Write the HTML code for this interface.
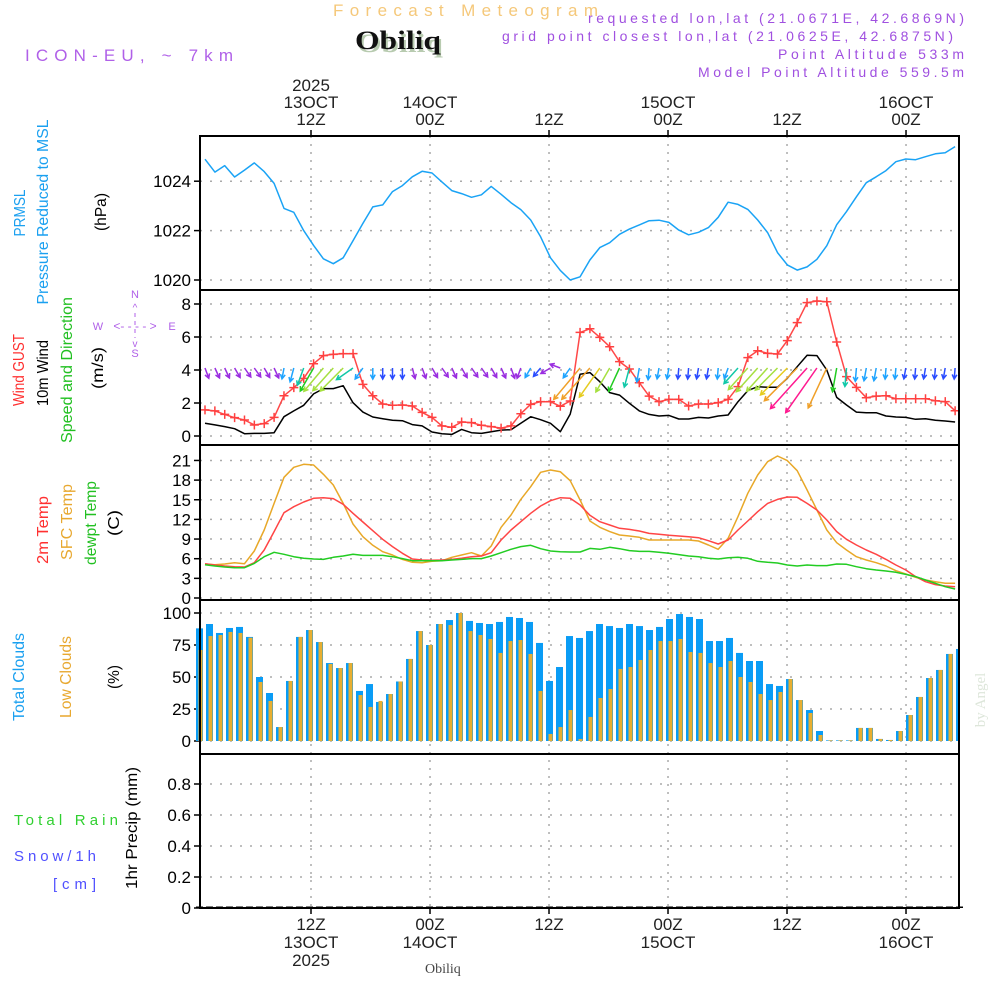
<!DOCTYPE html>
<html><head><meta charset="utf-8"><title>Forecast Meteogram Obiliq</title>
<style>
html,body{margin:0;padding:0;background:#fff;}
svg{display:block;font-family:"Liberation Sans",sans-serif;}
</style></head>
<body>
<svg id="chart" width="1000" height="1000" viewBox="0 0 1000 1000" xmlns="http://www.w3.org/2000/svg">
<rect x="0" y="0" width="1000" height="1000" fill="#fff"/>
<text x="333" y="16" font-size="17" fill="#f5c87a" textLength="265" lengthAdjust="spacing">Forecast Meteogram</text>
<text x="357" y="52" font-family="Liberation Serif,serif" font-weight="bold" font-size="26" fill="#b8cbb0" textLength="86" lengthAdjust="spacingAndGlyphs">Obiliq</text>
<text x="355" y="49" font-family="Liberation Serif,serif" font-weight="bold" font-size="26" fill="#111" textLength="86" lengthAdjust="spacingAndGlyphs">Obiliq</text>
<text x="25" y="61" font-size="17" fill="#b060e8" textLength="208" lengthAdjust="spacing">ICON-EU, ~ 7km</text>
<g font-size="14" fill="#a050e0">
<text x="588" y="23" textLength="376" lengthAdjust="spacing">requested lon,lat (21.0671E, 42.6869N)</text>
<text x="502" y="41" textLength="451" lengthAdjust="spacing">grid point closest lon,lat (21.0625E, 42.6875N)</text>
<text x="778" y="59" textLength="186" lengthAdjust="spacing">Point Altitude 533m</text>
<text x="698" y="77" textLength="266" lengthAdjust="spacing">Model Point Altitude 559.5m</text>
</g>
<g font-size="16">
<text transform="translate(25,213) rotate(-90)" text-anchor="middle" fill="#1aa0f0" textLength="47" lengthAdjust="spacingAndGlyphs">PRMSL</text>
<text transform="translate(48,212) rotate(-90)" text-anchor="middle" fill="#1aa0f0" textLength="185" lengthAdjust="spacingAndGlyphs">Pressure Reduced to MSL</text>
<text transform="translate(106,212) rotate(-90)" text-anchor="middle" fill="#000" textLength="38" lengthAdjust="spacingAndGlyphs">(hPa)</text>
<text transform="translate(24,370) rotate(-90)" text-anchor="middle" fill="#ff3030" textLength="72" lengthAdjust="spacingAndGlyphs">Wind GUST</text>
<text transform="translate(48,373) rotate(-90)" text-anchor="middle" fill="#000" textLength="66" lengthAdjust="spacingAndGlyphs">10m Wind</text>
<text transform="translate(72,370) rotate(-90)" text-anchor="middle" fill="#22c022" textLength="146" lengthAdjust="spacingAndGlyphs">Speed and Direction</text>
<text transform="translate(103,368) rotate(-90)" text-anchor="middle" fill="#000" textLength="42" lengthAdjust="spacingAndGlyphs">(m/s)</text>
<text transform="translate(48,530) rotate(-90)" text-anchor="middle" fill="#ff3030" textLength="68" lengthAdjust="spacingAndGlyphs">2m Temp</text>
<text transform="translate(72,522) rotate(-90)" text-anchor="middle" fill="#e8a830" textLength="76" lengthAdjust="spacingAndGlyphs">SFC Temp</text>
<text transform="translate(96,523) rotate(-90)" text-anchor="middle" fill="#22c022" textLength="84" lengthAdjust="spacingAndGlyphs">dewpt Temp</text>
<text transform="translate(119,523) rotate(-90)" text-anchor="middle" fill="#000" textLength="26" lengthAdjust="spacingAndGlyphs">(C)</text>
<text transform="translate(24,677) rotate(-90)" text-anchor="middle" fill="#1aa0f0" textLength="88" lengthAdjust="spacingAndGlyphs">Total Clouds</text>
<text transform="translate(71,677) rotate(-90)" text-anchor="middle" fill="#e8a830" textLength="82" lengthAdjust="spacingAndGlyphs">Low Clouds</text>
<text transform="translate(119,677) rotate(-90)" text-anchor="middle" fill="#000" textLength="24" lengthAdjust="spacingAndGlyphs">(%)</text>
<text transform="translate(137,828) rotate(-90)" text-anchor="middle" fill="#000" textLength="122" lengthAdjust="spacingAndGlyphs">1hr Precip (mm)</text>
</g>
<g font-size="15">
<text x="14" y="825" fill="#30d030" textLength="104" lengthAdjust="spacing">Total   Rain</text>
<text x="14" y="861" fill="#5050ff" textLength="82" lengthAdjust="spacing">Snow/1h</text>
<text x="53" y="889" fill="#5050ff" textLength="43" lengthAdjust="spacing">[cm]</text>
</g>
<g fill="#b060e8" font-size="11" text-anchor="middle">
<text x="135" y="298">N</text><text x="135" y="357">S</text><text x="98" y="330">W</text><text x="172" y="330">E</text>
<text x="135" y="330" font-size="12">&lt;- - - - &gt;</text>
<text x="135" y="311" font-size="10">^</text><text x="135" y="347" font-size="10">v</text>
<line x1="135" y1="313" x2="135" y2="338" stroke="#b060e8" stroke-dasharray="4,4"/>
</g>
<text transform="translate(985,700) rotate(-90)" text-anchor="middle" font-family="Liberation Serif,serif" font-size="15" fill="#dde6da">by Angel</text>
<text x="425" y="973" font-family="Liberation Serif,serif" font-size="14" fill="#444">Obiliq</text>
<g id="plot"></g>
</svg>
<script>
const pressure=[1024.89,1024.37,1024.63,1024.17,1024.45,1024.74,1024.39,1023.91,1022.90,1022.74,1022.0,1021.40,1020.86,1020.66,1020.90,1021.59,1022.29,1022.96,1023.04,1023.58,1023.82,1024.18,1024.40,1024.33,1023.97,1023.62,1023.50,1023.35,1023.45,1023.79,1023.47,1023.13,1022.85,1022.43,1021.75,1020.90,1020.39,1020.0,1020.13,1020.81,
1021.31,1021.51,1021.85,1022.06,1022.23,1022.40,1022.42,1022.33,1022.02,1021.83,1021.93,1022.12,1022.54,1023.15,1023.06,1022.86,1022.43,1021.92,1021.11,1020.61,1020.40,1020.53,1020.84,1021.39,1022.24,1022.77,1023.37,1023.94,1024.18,1024.43,1024.79,1024.90,1024.87,1024.99,1025.11,1025.15,1025.40];
const gust=[1.58,1.52,1.31,1.11,0.97,0.67,0.75,1.13,2.44,2.93,3.49,4.38,4.87,4.95,4.99,4.99,3.13,2.44,1.94,1.86,1.88,1.82,1.43,1.13,0.61,0.53,0.85,0.81,0.65,0.57,0.48,0.61,1.35,1.92,2.08,2.08,1.80,2.12,6.28,6.50,
5.98,5.41,4.51,4.06,3.23,2.42,2.08,2.22,2.22,1.82,1.94,1.94,2.02,2.22,2.99,4.75,5.17,5.01,4.97,5.78,6.87,8.08,8.18,8.14,5.70,3.60,2.95,2.32,2.42,2.44,2.26,2.26,2.26,2.26,2.14,2.08,1.53];
const wind10=[0.77,0.67,0.57,0.44,0.14,0.16,0.16,0.20,1.17,1.52,1.86,2.55,2.87,2.87,3.05,2.02,1.45,1.15,1.05,0.95,0.93,0.69,0.61,0.24,0.14,0.10,0.40,0.20,0.16,0.26,0.36,0.38,0.77,1.17,0.99,0.77,0.26,1.33,3.74,3.84,
3.29,2.63,2.48,1.98,1.52,1.31,1.21,1.25,1.03,1.03,1.13,1.09,1.21,1.27,2.08,2.75,2.99,2.95,2.95,3.50,4.20,4.89,4.87,4.00,2.34,1.88,1.45,1.41,1.41,1.21,1.15,1.13,1.01,1.05,0.95,0.91,0.85];
const windDirTo=[160,155,155,150,145,145,150,155,190,195,200,210,220,222,225,235,215,180,180,180,180,165,160,150,145,155,150,145,145,150,155,160,200,210,220,240,290,215,220,222,
215,210,205,195,190,185,190,190,185,185,190,190,185,200,222,222,222,222,225,225,225,222,215,205,190,185,185,190,190,185,185,190,185,190,185,190,185];
const t2m=[5.24,5.04,4.89,4.78,4.73,5.39,7.33,10.13,13.03,13.94,14.66,15.22,15.32,15.17,14.30,12.93,11.60,10.28,8.96,7.84,6.82,5.95,5.80,5.75,5.80,5.90,6.06,6.31,6.41,6.92,8.85,10.38,11.65,12.93,14.05,14.86,15.32,15.22,14.20,12.62,
11.65,11.15,10.64,10.48,10.23,9.87,9.72,9.57,9.47,9.36,9.21,8.75,8.24,8.85,10.38,11.76,13.18,14.45,15.06,15.42,15.37,14.45,13.44,11.91,10.13,8.96,8.09,7.33,6.67,5.90,5.04,4.27,3.26,2.49,2.04,1.83,1.73];
const tsfc=[5.19,5.09,5.19,5.39,5.24,7.18,10.38,14.45,18.42,19.95,20.41,20.31,18.88,17.25,14.45,11.30,9.36,8.04,7.07,6.56,5.90,5.45,5.39,5.60,5.70,6.21,6.56,6.92,6.41,7.94,10.79,12.67,15.06,16.99,19.19,19.54,19.29,17.91,14.96,11.76,
10.79,10.13,9.62,9.47,9.26,8.85,8.85,8.85,8.85,8.85,8.70,8.09,7.43,9.11,12.42,15.98,18.78,20.81,21.68,20.97,19.44,16.49,13.44,10.38,8.45,7.33,6.31,5.80,5.39,4.89,4.17,3.66,3.16,2.75,2.49,2.24,2.24];
const tdew=[5.09,4.89,4.73,4.63,4.63,5.29,6.31,6.97,6.67,6.31,6.06,5.95,5.90,6.21,6.41,6.67,6.51,6.51,6.51,6.31,6.01,5.70,5.70,5.70,5.70,5.80,5.90,6.01,6.01,6.41,6.92,7.43,7.84,8.04,7.53,7.18,7.07,7.02,7.02,7.58,
7.43,7.74,7.53,7.23,7.12,7.12,6.97,6.82,6.62,6.41,6.31,6.06,5.95,6.16,6.21,6.06,5.60,5.45,5.34,5.04,4.89,5.04,4.94,4.94,5.19,5.14,4.78,4.48,4.27,4.12,3.92,3.61,3.26,2.75,2.24,1.73,1.37];
const cloudTotal=[88.0,91.4,84.4,88.3,89.1,81.3,50.0,37.5,10.9,46.9,81.3,86.7,77.3,60.9,57.0,60.9,39.1,44.5,30.5,36.7,46.5,64.1,85.9,75.0,91.4,94.5,100,93.8,92.2,91.4,93.0,96.9,96.1,93.0,76.6,46.9,57.8,82.0,80.5,85.9,
91.4,89.8,88.3,91.4,89.8,86.7,89.1,95.3,99.2,96.9,95.3,78.1,78.1,80.5,68.8,62.5,62.5,44.5,43.0,48.4,32.0,24.2,7.8,0.5,0.5,0.5,10.2,10.2,1.6,0.8,7.8,20.3,34.4,49.2,55.5,68.0,71.9];
const cloudLow=[71.1,82.0,82.8,85.2,84.4,80.7,46.1,31.3,10.9,46.9,81.3,86.7,77.3,60.2,57.0,60.9,35.9,26.6,31.3,36.7,46.5,64.1,85.9,75.0,91.4,90.6,100,85.9,82.8,79.7,68.8,78.1,78.9,68.0,39.1,5.5,10.9,24.2,1.6,18.8,
33.6,40.6,56.3,57.8,63.3,71.1,78.1,78.1,79.7,69.5,68.8,60.9,57.8,62.5,50.0,46.1,36.7,32.0,38.3,48.4,32.0,21.9,4.7,0.5,0.5,0.5,10.2,10.2,1.6,0.8,7.8,20.3,34.4,49.2,55.5,68.0,71.9];
const precip=[0,0,0,0,0,0,0,0,0,0,0,0,0,0,0,0,0,0,0,0,0,0,0,0,0,0,0,0,0,0,0,0,0,0,0,0,0,0,0,0,0,0,0,0,0,0,0,0,0,0,0,0,0,0,0,0,0,0,0,0,0,0,0,0,0,0,0,0,0,0,0,0,0,0,0,0,0];
const pressureTicks=[1020,1022,1024];
const windTicks=[0,2,4,6,8];
const tempTicks=[0,3,6,9,12,15,18,21];
const cloudTicks=[0,25,50,75,100];
const precipTicks=[0,0.2,0.4,0.6,0.8];
const timeTickHours=[12,24,36,48,60,72];
const topLabels=[["2025","13OCT","12Z"],["14OCT","00Z"],["12Z"],["15OCT","00Z"],["12Z"],["16OCT","00Z"]];
const bottomLabels=[["12Z","13OCT","2025"],["00Z","14OCT"],["12Z"],["00Z","15OCT"],["12Z"],["00Z","16OCT"]];

const NS="http://www.w3.org/2000/svg";
const plot=document.getElementById('plot');
const L=200,R=959;
function mk(tag,attrs,parent){const e=document.createElementNS(NS,tag);for(const k in attrs)e.setAttribute(k,attrs[k]);(parent||plot).appendChild(e);return e;}
const xLine=i=>205+i*9.87;
const xBar=i=>199.5+i*10;
const xHour=h=>311+(h-12)*9.917;
const yP=v=>280-(v-1020)*24.7;
const yW=v=>436-v*16.5;
const yT=v=>598-v*6.55;
const yC=v=>741-v*1.28;
const yR=v=>908-v*155;
const panels=[[136,290],[290,445],[445,600],[600,754],[754,908]];

function hgrid(ticks,ys,fmt,name){
  ticks.forEach(t=>{
    const y=ys(t);
    const g=mk('line',{x1:L,x2:R,y1:y,y2:y,stroke:'#aaa','stroke-width':1.5,'stroke-dasharray':'2,8'});
    
    
    mk('line',{x1:L-6,x2:L,y1:y,y2:y,stroke:'#000','stroke-width':1.5});
    const tx=mk('text',{x:L-9,y:y+6,'text-anchor':'end','font-size':17,fill:'#000'});
    tx.textContent=fmt(t);
    
    
  });
}
hgrid(pressureTicks,yP,t=>String(t),'pressure');
hgrid(windTicks,yW,t=>String(t),'wind');
hgrid(tempTicks,yT,t=>String(t),'temp');
hgrid(cloudTicks,yC,t=>String(t),'cloud');
hgrid(precipTicks,yR,t=>t===0?'0':t.toFixed(1),'precip');
timeTickHours.forEach((h,k)=>{
  const x=xHour(h);
  const v=mk('line',{x1:x,x2:x,y1:136,y2:908,stroke:'#aaa','stroke-width':1.5,'stroke-dasharray':'2,6'});
  
  
  mk('line',{x1:x,x2:x,y1:130,y2:136,stroke:'#000','stroke-width':1.5});
  mk('line',{x1:x,x2:x,y1:908,y2:914,stroke:'#000','stroke-width':1.5});
  const tl=topLabels[k];
  tl.forEach((s,j)=>{
    const t=mk('text',{x:x,y:125-(tl.length-1-j)*17,'text-anchor':'middle','font-size':17,fill:'#222'});
    t.textContent=s;
    
    
  });
  bottomLabels[k].forEach((s,j)=>{
    const t=mk('text',{x:x,y:930+j*18,'text-anchor':'middle','font-size':17,fill:'#222'});
    t.textContent=s;
    
    
  });
});

function line(arr,ys,color,name,w){
  const p=mk('polyline',{points:arr.map((v,i)=>xLine(i).toFixed(1)+','+ys(v).toFixed(1)).join(' '),fill:'none',stroke:color,'stroke-width':w||1.5,'stroke-linejoin':'round'});
  
  
  return p;
}
line(pressure,yP,'#1aa3f5','pressure-line');

cloudTotal.forEach((v,i)=>{
  const x=xBar(i);
  const b=mk('rect',{x:x-3.5,y:yC(v),width:7,height:Math.max(0.5,yC(0)-yC(v)),fill:'#0a9cf5'});
  
  
});
cloudLow.forEach((v,i)=>{
  const x=xBar(i);
  const b=mk('rect',{x:x-1,y:yC(v),width:4,height:Math.max(0.5,yC(0)-yC(v)),fill:'#e8ae30'});
  
  
});
precip.forEach((v,i)=>{
  const x=xBar(i);
  const b=mk('rect',{x:x-3.5,y:yR(v)-1.5,width:7,height:yR(0)-yR(v)+1.5,fill:'#000'});
  
  
});

line(tsfc,yT,'#e8a828','sfc-temp-line');
line(t2m,yT,'#ff4545','temp-2m-line');
line(tdew,yT,'#22cc22','dewpoint-line');

line(wind10,yW,'#000','wind10m-line');
line(gust,yW,'#ff4848','gust-line');
gust.forEach((v,i)=>{
  const x=xLine(i),y=yW(v);
  const m=mk('path',{d:`M${x-4.5},${y}H${x+4.5}M${x},${y-4.5}V${y+4.5}`,stroke:'#ff4040','stroke-width':1.5});
  
  
});
function windColor(v){
  if(v<0.8)return '#9a2ee0';
  if(v<1.15)return '#2a4cff';
  if(v<1.6)return '#1ea4ff';
  if(v<2.1)return '#10c8a8';
  if(v<2.6)return '#22cc22';
  if(v<3.1)return '#a6e040';
  if(v<3.6)return '#e6cc20';
  if(v<4.4)return '#f0a028';
  return '#ff1a90';
}
wind10.forEach((v,i)=>{
  const x0=xLine(i),y0=368;
  const len=Math.max(11,12*v-4);
  const a=windDirTo[i]*Math.PI/180;
  const dx=Math.sin(a),dy=-Math.cos(a);
  const x1=x0+dx*len,y1=y0+dy*len;
  const ah=5,sp=0.5;
  const lx=x1-ah*(dx*Math.cos(sp)-dy*Math.sin(sp)),ly=y1-ah*(dy*Math.cos(sp)+dx*Math.sin(sp));
  const rx=x1-ah*(dx*Math.cos(-sp)-dy*Math.sin(-sp)),ry=y1-ah*(dy*Math.cos(-sp)+dx*Math.sin(-sp));
  const p=mk('path',{d:`M${x0.toFixed(1)},${y0}L${x1.toFixed(1)},${y1.toFixed(1)}M${lx.toFixed(1)},${ly.toFixed(1)}L${x1.toFixed(1)},${y1.toFixed(1)}L${rx.toFixed(1)},${ry.toFixed(1)}`,fill:'none',stroke:windColor(v),'stroke-width':1.5});
  
  
});

panels.forEach((p,k)=>{
  const r=mk('rect',{x:L,y:p[0],width:R-L,height:p[1]-p[0],fill:'none',stroke:'#000','stroke-width':2});
  
  
});
mk('rect',{x:R+1,y:600,width:8,height:155,fill:'#fff'});
</script>
</body></html>
